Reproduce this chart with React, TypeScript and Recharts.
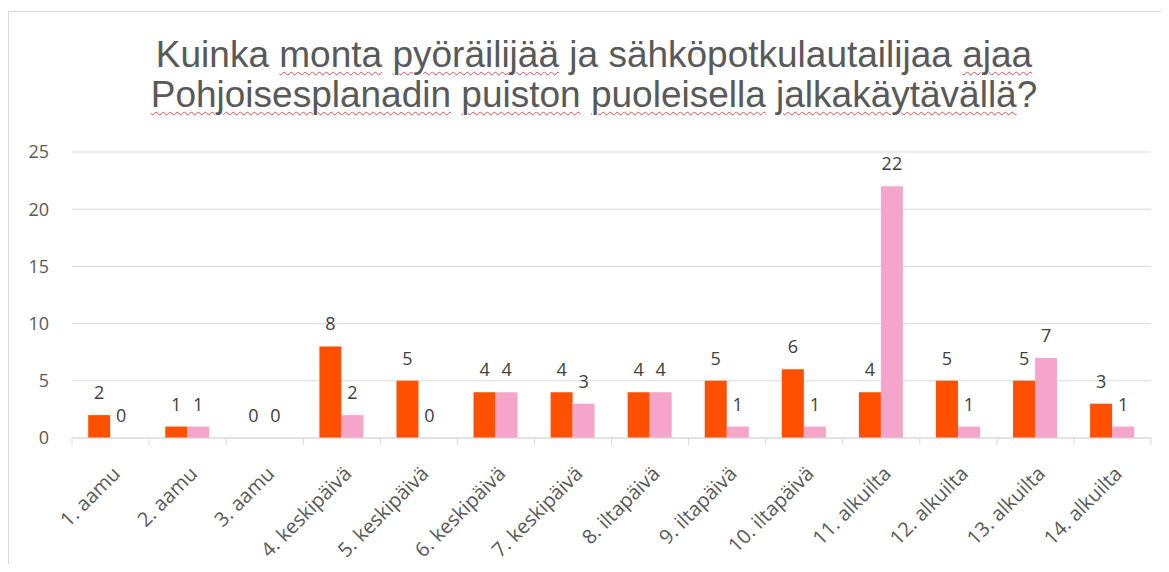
import React from "react";
import { Bar, BarChart, CartesianGrid, LabelList, XAxis, YAxis } from "recharts";

// Laskennan tulokset — 14 havaintojaksoa
const jaksot = [
  "1. aamu",
  "2. aamu",
  "3. aamu",
  "4. keskipäivä",
  "5. keskipäivä",
  "6. keskipäivä",
  "7. keskipäivä",
  "8. iltapäivä",
  "9. iltapäivä",
  "10. iltapäivä",
  "11. alkuilta",
  "12. alkuilta",
  "13. alkuilta",
  "14. alkuilta",
];
const pyorailijat = [2, 1, 0, 8, 5, 4, 4, 4, 5, 6, 4, 5, 5, 3];
const potkulautailijat = [0, 1, 0, 2, 0, 4, 3, 4, 1, 1, 22, 1, 7, 1];
const yTicks = [0, 5, 10, 15, 20, 25];

const otsikkoRivit = [
  [
    ["Kuinka", false],
    ["monta", true],
    ["pyöräilijää", true],
    ["ja", false],
    ["sähköpotkulautailijaa", false],
    ["ajaa", true],
  ],
  [
    ["Pohjoisesplanadin", true],
    ["puiston", true],
    ["puoleisella", true],
    ["jalkakäytävällä", true],
    ["?", false],
  ],
] as const;

const data = jaksot.map((jakso, i) => ({
  jakso,
  pyorailijat: pyorailijat[i],
  potkulautailijat: potkulautailijat[i],
}));

const GRID = "#d9d9d9";
const TEXT = "#595959";
const FONT = "'Open Sans', 'Noto Sans', sans-serif";

function JaksoTick(props: any) {
  const { x, y, payload, index, visibleTicksCount } = props;
  const puoli = payload.offset ?? 0;
  const viimeinen = index === visibleTicksCount - 1;
  const tx = x + 11;
  const ty = y + 37;
  return (
    <g>
      <line x1={x - puoli} x2={x - puoli} y1={y} y2={y + 7} stroke={GRID} />
      {viimeinen && (
        <line x1={x + puoli} x2={x + puoli} y1={y} y2={y + 7} stroke={GRID} />
      )}
      <text
        x={tx}
        y={ty}
        textAnchor="end"
        transform={`rotate(-45, ${tx}, ${ty})`}
        fill={TEXT}
        fontSize={20}
        fontFamily={FONT}
      >
        {payload.value}
      </text>
    </g>
  );
}

// nollatkin näkyviin, kuten alkuperäisessä
function Arvo(props: any) {
  const { x, y, width, value } = props;
  return (
    <text
      x={x + width / 2}
      y={y - 16}
      textAnchor="middle"
      fill="#404040"
      fontSize={18}
      fontFamily={FONT}
    >
      {value}
    </text>
  );
}

function Otsikko() {
  return (
    <div
      style={{
        position: "absolute",
        left: 0,
        top: 23,
        width: 1170,
        textAlign: "center",
        fontFamily: "'Liberation Sans', Arial, sans-serif",
        fontSize: 37,
        lineHeight: "40px",
        color: TEXT,
      }}
    >
      {otsikkoRivit.map((rivi, r) => (
        <div key={r}>
          {rivi.map(([sana, alleviivattu], i) => (
            <React.Fragment key={i}>
              {i > 0 && sana !== "?" ? " " : ""}
              <span
                style={
                  alleviivattu
                    ? {
                        textDecorationLine: "underline",
                        textDecorationStyle: "wavy",
                        textDecorationColor: "#e8494f",
                        textDecorationThickness: "1px",
                        textUnderlineOffset: "4px",
                      }
                    : undefined
                }
              >
                {sana}
              </span>
            </React.Fragment>
          ))}
        </div>
      ))}
    </div>
  );
}

export default function App() {
  return (
    <div style={{ paddingTop: 3 }}>
      <div
        style={{
          position: "relative",
          width: 1153,
          height: 552,
          borderLeft: `1px solid ${GRID}`,
          borderTop: `1px solid ${GRID}`,
          background: "#fff",
          overflow: "hidden",
        }}
      >
        <Otsikko />
        <BarChart
          width={1152}
          height={551}
          data={data}
          margin={{ top: 140, right: 10, bottom: 0, left: 0 }}
          barCategoryGap="21%"
          barGap={0}
        >
          <CartesianGrid vertical={false} stroke={GRID} />
          <XAxis
            dataKey="jakso"
            interval={0}
            height={125}
            tickSize={0}
            tickMargin={0}
            tickLine={false}
            axisLine={{ stroke: GRID }}
            tick={<JaksoTick />}
          />
          <YAxis
            width={63}
            domain={[0, 25]}
            ticks={yTicks}
            axisLine={false}
            tickLine={false}
            tickSize={0}
            tickMargin={23}
            tick={{ fill: TEXT, fontSize: 18, fontFamily: FONT }}
          />
          <Bar
            dataKey="pyorailijat"
            name="Pyöräilijät"
            fill="#ff5000"
            minPointSize={0.01}
            isAnimationActive={false}
          >
            <LabelList dataKey="pyorailijat" content={<Arvo />} />
          </Bar>
          <Bar
            dataKey="potkulautailijat"
            name="Sähköpotkulautailijat"
            fill="#f4a5c9"
            minPointSize={0.01}
            isAnimationActive={false}
          >
            <LabelList dataKey="potkulautailijat" content={<Arvo />} />
          </Bar>
        </BarChart>
      </div>
    </div>
  );
}
